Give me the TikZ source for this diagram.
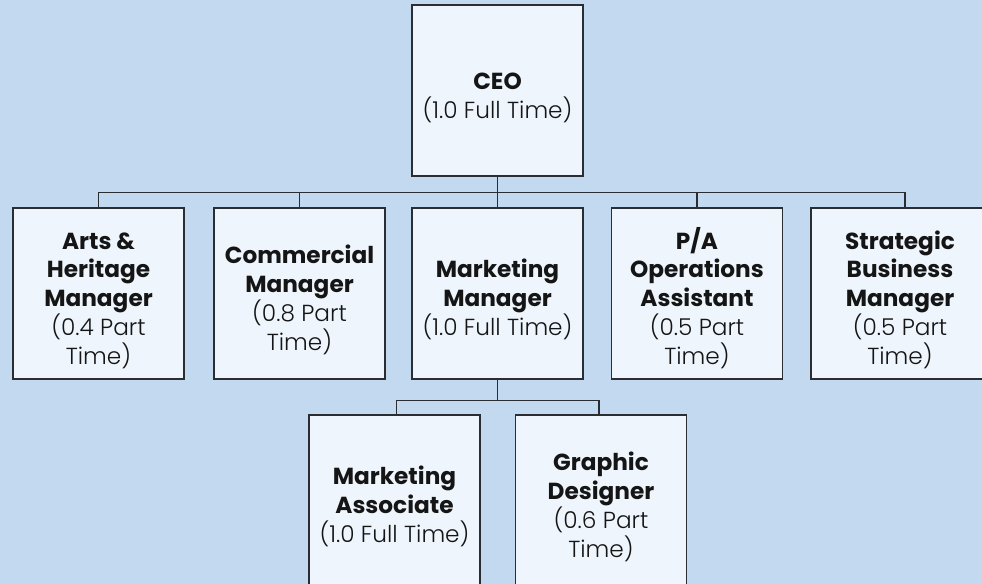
\documentclass[tikz,border=0pt]{standalone}
\usepackage{fontspec}
\setmainfont{Poppins}[UprightFont=* Light, BoldFont=* Bold]
\usetikzlibrary{calc}
\definecolor{pagebg}{HTML}{C2D9F0}
\definecolor{boxfill}{HTML}{EEF5FC}
\definecolor{boxline}{HTML}{2A2E33}
\definecolor{ink}{HTML}{151515}
\tikzset{
  role/.style={draw=boxline, fill=boxfill, line width=1.4bp, inner sep=0pt,
    minimum width=171bp, minimum height=171bp, align=center, text=ink,
    font=\fontsize{23.3}{29}\selectfont},
  link/.style={draw=boxline, line width=1.4bp}
}
% first line of a box: bold, with extra room above so the block sits a bit low
\newcommand{\ttlfirst}[1]{\rule{0pt}{31bp}\textbf{#1}}
\newcommand{\ttl}[1]{\textbf{#1}}
\begin{document}
\begin{tikzpicture}[x=1bp,y=-1bp]
  \fill[pagebg] (0,0) rectangle (982,584);
  \useasboundingbox (0,0) rectangle (982,584);
  \clip (0,0) rectangle (982,584);

  % top level
  \node[role] (ceo) at (497.5,90.5) {\ttlfirst{CEO}\\(1.0 Full Time)};

  % second level
  \node[role] (arts) at (98.5,293.5) {\ttlfirst{Arts \&}\\\ttl{Heritage}\\\ttl{Manager}\\(0.4 Part\\Time)};
  \node[role] (comm) at (299.5,293.5) {\ttlfirst{Commercial}\\\ttl{Manager}\\(0.8 Part\\Time)};
  \node[role] (mkt) at (497.5,293.5) {\ttlfirst{Marketing}\\\ttl{Manager}\\(1.0 Full Time)};
  \node[role] (pa) at (697,293.5) {\ttlfirst{P/A}\\\ttl{Operations}\\\ttl{Assistant}\\(0.5 Part\\Time)};
  \node[role, minimum width=178bp] (sbm) at (900,293.5) {\ttlfirst{Strategic}\\\ttl{Business}\\\ttl{Manager}\\(0.5 Part\\Time)};

  % third level
  \node[role] (assoc) at (394.5,500.5) {\ttlfirst{Marketing}\\\ttl{Associate}\\(1.0 Full Time)};
  \node[role] (gfx) at (601,500.5) {\ttlfirst{Graphic}\\\ttl{Designer}\\(0.6 Part\\Time)};

  % CEO to direct reports
  \coordinate (busA) at ($(ceo.south)+(0,16)$);
  \draw[link] (ceo.south) -- (busA);
  \draw[link] (busA) -| (arts.north);
  \draw[link] (busA) -| (comm.north);
  \draw[link] (busA) -- (mkt.north);
  \draw[link] (busA) -| (pa.north);
  \draw[link] (busA) -| ([xshift=5bp]sbm.north);

  % marketing team
  \coordinate (busB) at ($(mkt.south)+(0,21)$);
  \draw[link] (mkt.south) -- (busB);
  \draw[link] (busB) -| ([xshift=2bp]assoc.north);
  \draw[link] (busB) -| ([xshift=-2bp]gfx.north);
\end{tikzpicture}
\end{document}
